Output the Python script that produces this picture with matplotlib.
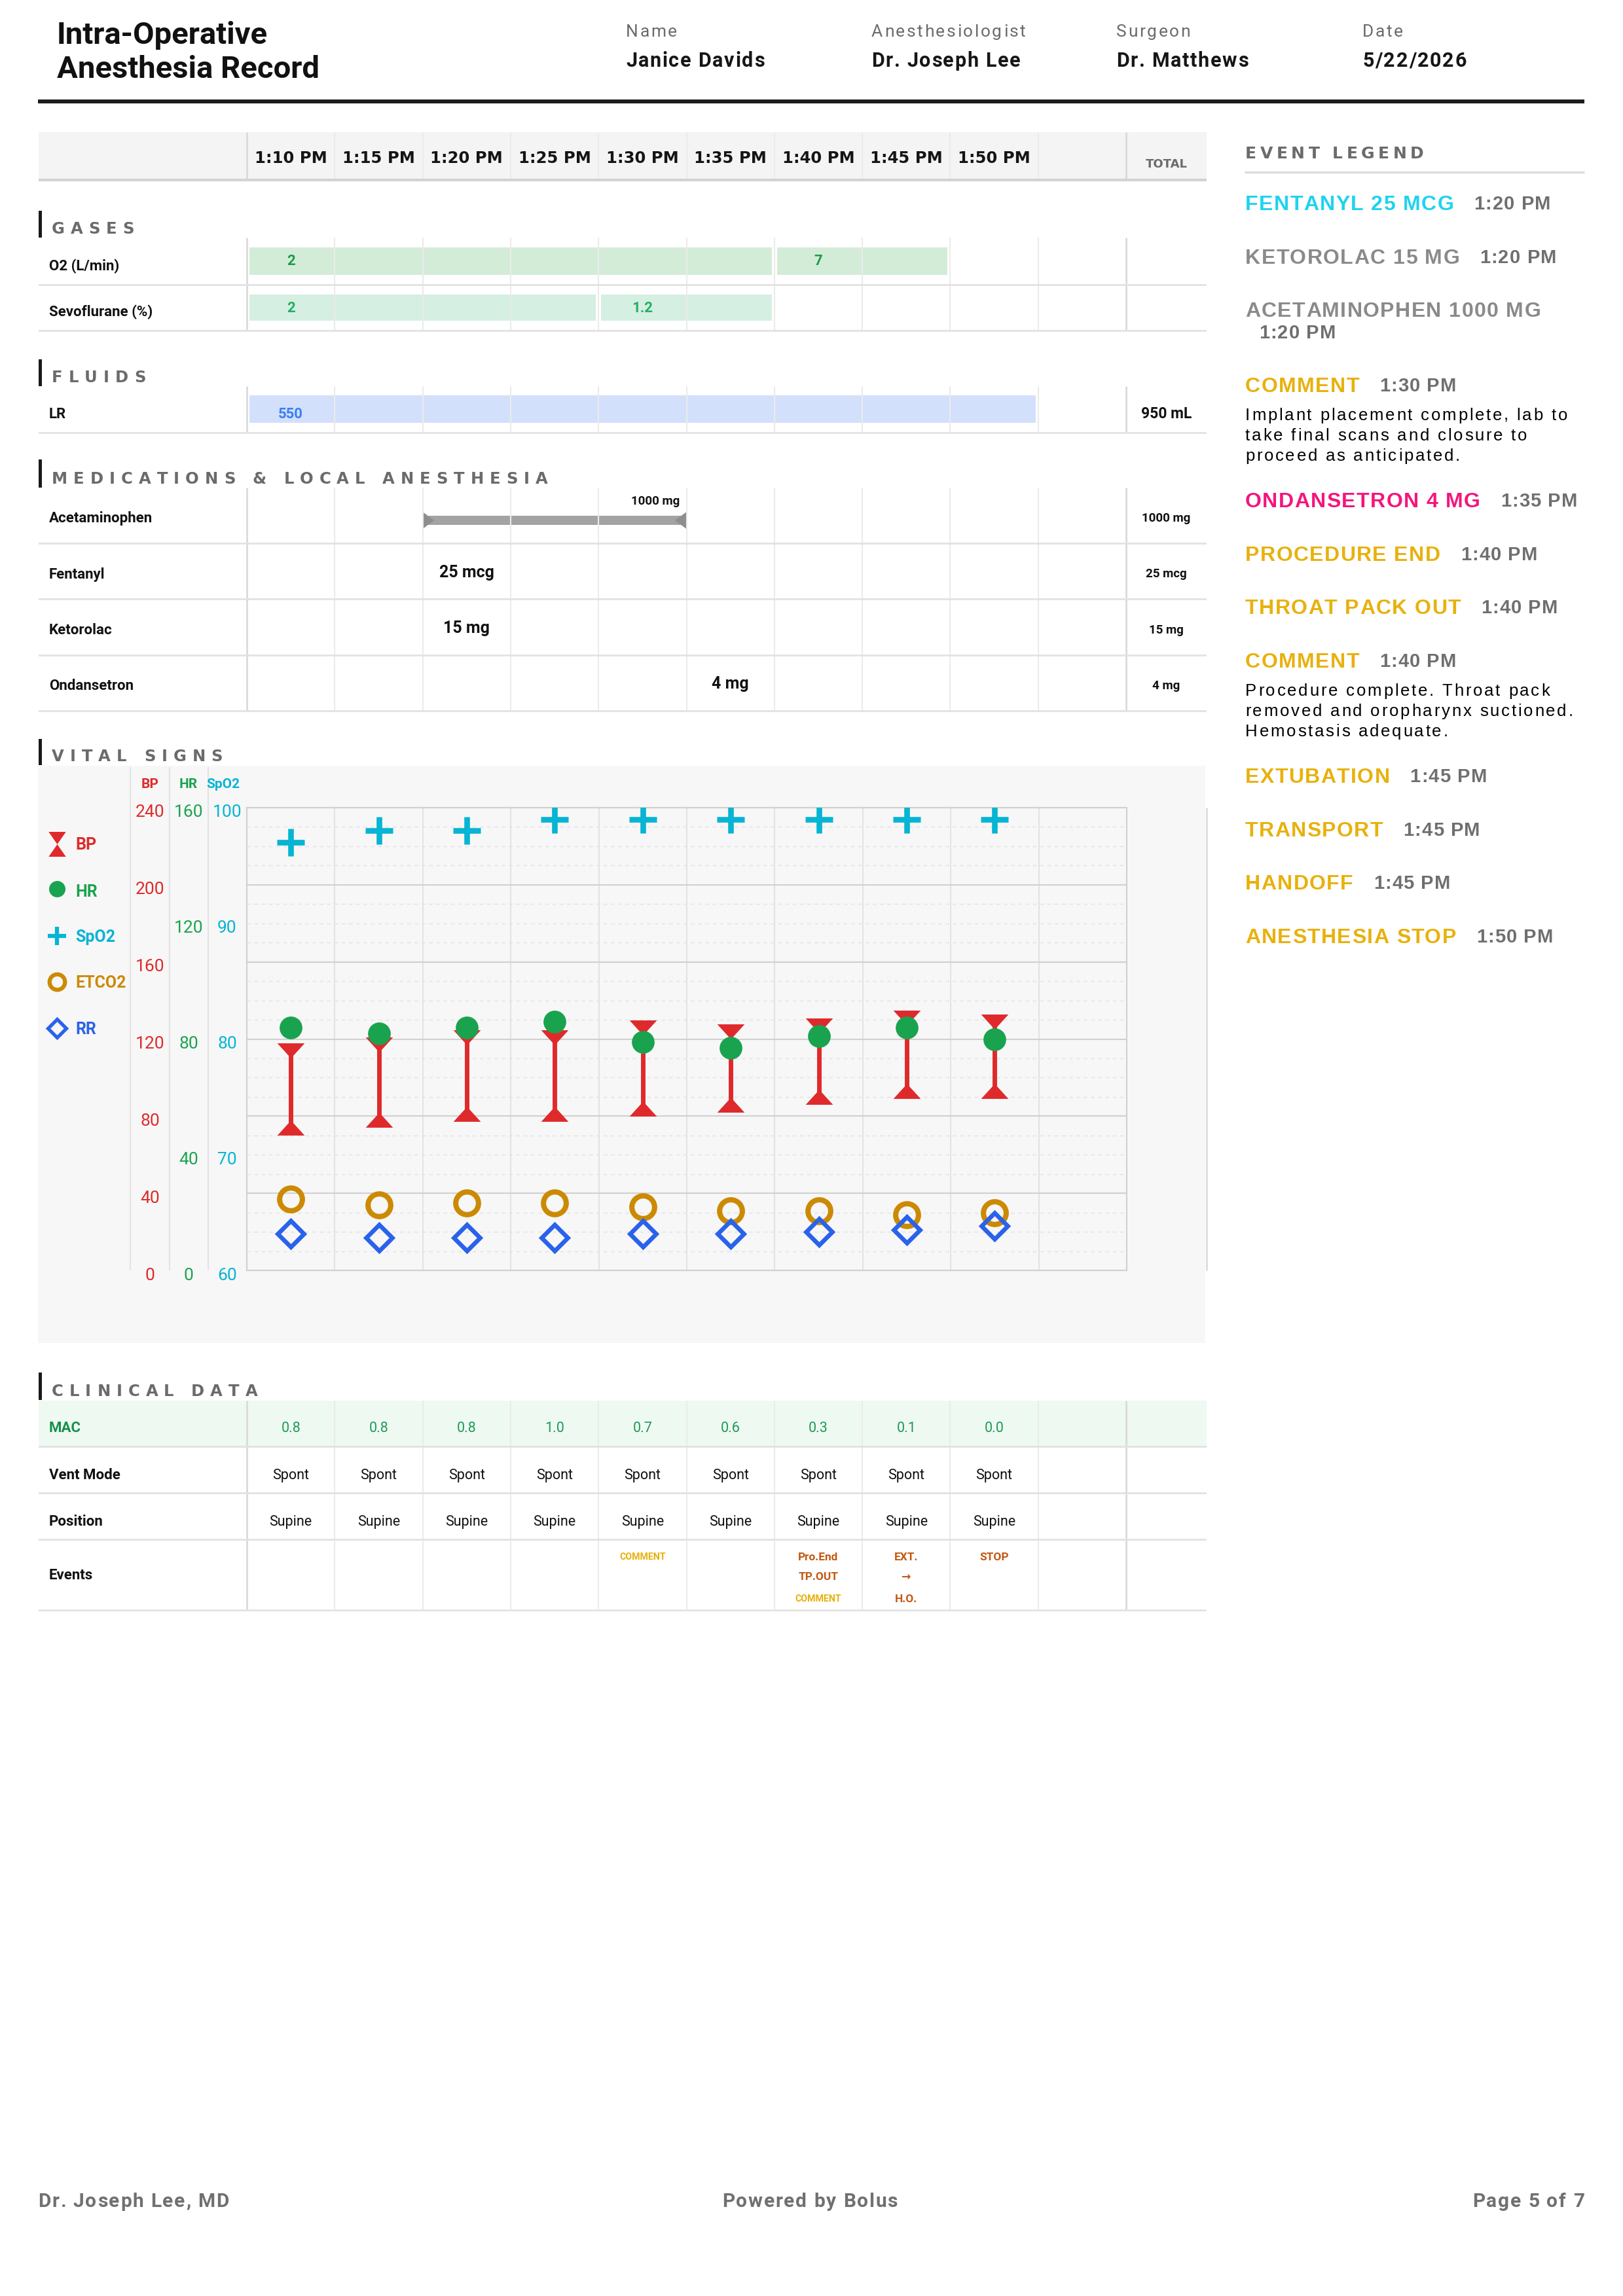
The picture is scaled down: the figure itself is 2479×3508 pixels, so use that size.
import matplotlib
matplotlib.use('Agg')
import matplotlib.pyplot as plt
from matplotlib.patches import Rectangle, Polygon
from matplotlib.transforms import offset_copy
from matplotlib.font_manager import FontProperties, findfont, get_font
try:
    from matplotlib.ft2font import LoadFlags
    NOHINT = LoadFlags.NO_HINTING
except ImportError:
    from matplotlib.ft2font import LOAD_NO_HINTING as NOHINT

plt.rcParams['font.family'] = ['Roboto', 'DejaVu Sans']
ROB = ['Roboto', 'DejaVu Sans']
LEG = ['Liberation Sans', 'DejaVu Sans']
DJV = ['DejaVu Sans']

W, H = 2479, 3508

# ---------------- data ----------------
doc_title = ['Intra-Operative', 'Anesthesia Record']
info_labels = ['Name', 'Anesthesiologist', 'Surgeon', 'Date']
info_values = ['Janice Davids', 'Dr. Joseph Lee', 'Dr. Matthews', '5/22/2026']
footer = ['Dr. Joseph Lee, MD', 'Powered by Bolus', 'Page 5 of 7']

times = ['1:10 PM', '1:15 PM', '1:20 PM', '1:25 PM', '1:30 PM',
         '1:35 PM', '1:40 PM', '1:45 PM', '1:50 PM']

# gases / fluids: bar start column, number of columns, label
o2_start = [0, 6]
o2_span = [6, 2]
o2_text = ['2', '7']
sevo_start = [0, 4]
sevo_span = [4, 2]
sevo_text = ['2', '1.2']
lr_start = [0]
lr_span = [9]
lr_text = ['550']
lr_total = '950 mL'

med_names = ['Acetaminophen', 'Fentanyl', 'Ketorolac', 'Ondansetron']
med_col = [2, 2, 2, 5]
med_span = [3, 0, 0, 0]
med_dose = ['1000 mg', '25 mcg', '15 mg', '4 mg']

bp_sys = [114, 117, 121, 121, 126, 124, 127, 131, 129]
bp_dia = [74, 78, 81, 81, 84, 86, 90, 93, 93]
hr = [84, 82, 84, 86, 79, 77, 81, 84, 80]
spo2 = [97, 98, 98, 99, 99, 99, 99, 99, 99]
etco2 = [37, 34, 35, 35, 33, 31, 31, 29, 30]
rr = [19, 17, 17, 17, 19, 19, 20, 21, 23]
bp_ticks = [0, 40, 80, 120, 160, 200, 240]
hr_ticks = [0, 40, 80, 120, 160]
spo2_ticks = [60, 70, 80, 90, 100]

mac = ['0.8', '0.8', '0.8', '1.0', '0.7', '0.6', '0.3', '0.1', '0.0']
vent_mode = ['Spont', 'Spont', 'Spont', 'Spont', 'Spont', 'Spont', 'Spont', 'Spont', 'Spont']
position = ['Supine', 'Supine', 'Supine', 'Supine', 'Supine', 'Supine', 'Supine', 'Supine', 'Supine']
event_col = [4, 6, 6, 6, 7, 7, 7, 8]
event_line = [0, 0, 1, 2, 0, 1, 2, 0]
event_tag = ['COMMENT', 'Pro.End', 'TP.OUT', 'COMMENT', 'EXT.', '→', 'H.O.', 'STOP']

legend_names = ['FENTANYL 25 MCG', 'KETOROLAC 15 MG', 'ACETAMINOPHEN 1000 MG', 'COMMENT',
                'ONDANSETRON 4 MG', 'PROCEDURE END', 'THROAT PACK OUT', 'COMMENT',
                'EXTUBATION', 'TRANSPORT', 'HANDOFF', 'ANESTHESIA STOP']
legend_times = ['1:20 PM', '1:20 PM', '1:20 PM', '1:30 PM', '1:35 PM', '1:40 PM',
                '1:40 PM', '1:40 PM', '1:45 PM', '1:45 PM', '1:45 PM', '1:50 PM']
legend_colors = ['#1fd3ef', '#8a8a8a', '#8a8a8a', '#e8b10c', '#f5157d', '#e8b10c',
                 '#e8b10c', '#e8b10c', '#e8b10c', '#e8b10c', '#e8b10c', '#e8b10c']
legend_notes = [[], [], [],
                ['Implant placement complete, lab to', 'take final scans and closure to',
                 'proceed as anticipated.'],
                [], [], [],
                ['Procedure complete. Throat pack', 'removed and oropharynx suctioned.',
                 'Hemostasis adequate.'],
                [], [], [], []]

RED, GREEN, CYAN, GOLD, BLUE = '#df2a2c', '#1aa34f', '#06b4d4', '#cc8a04', '#2a62ea'
GRAY = '#6b6b6b'

# ---------------- figure ----------------
fig = plt.figure(figsize=(W / 100, H / 100), dpi=100)
page = fig.add_axes([0, 0, 1, 1])
page.set_xlim(0, W)
page.set_ylim(H, 0)
page.axis('off')


def txt(ax, x, yc, s, size, **kw):
    # cap height centred on yc (y grows downward)
    return ax.text(x, yc + 0.49 * size, s, fontsize=size, va='baseline', **kw)


def advances(s, fp, size):
    font = get_font(findfont(fp))
    font.set_size(size, 100)
    return [font.load_char(ord(c), flags=NOHINT).linearHoriAdvance / 65536 for c in s]


def tracked_width(s, size, track, family, weight='normal'):
    fp = FontProperties(family=family, weight=weight, size=size)
    return sum(advances(s, fp, size)) + track * (len(s) - 1)


def tracked(x, yc, s, size, track, family, weight='normal', ha='left', **kw):
    # letter-spaced text on the page axes, returns right end in px
    fp = FontProperties(family=family, weight=weight, size=size)
    adv = advances(s, fp, size)
    total = sum(adv) + track * (len(s) - 1)
    x0 = x - {'left': 0, 'center': total / 2, 'right': total}[ha]
    for c, a in zip(s, adv):
        if c != ' ':
            page.text(x0, yc + 0.49 * size, c, fontproperties=fp, va='baseline', **kw)
        x0 += a + track
    return x0 - track


# header
txt(page, 87, 50, doc_title[0], 34, fontweight='bold', color='#111111')
txt(page, 87, 102, doc_title[1], 34, fontweight='bold', color='#111111')
for x, lab, val in zip([956, 1331, 1705, 2081], info_labels, info_values):
    tracked(x, 47, lab, 19, 2.6, ROB, color=GRAY)
    tracked(x, 91, val, 22, 1.7, ROB, weight='bold', color='#161616')
page.add_patch(Rectangle((58, 152), 2362, 6, color='#1c1c1c', lw=0))

# footer
tracked(58, 3361, footer[0], 21.5, 1.8, ROB, weight='bold', color='#707070')
tracked(1237, 3361, footer[1], 21.5, 1.8, ROB, weight='bold', color='#707070', ha='center')
tracked(2420, 3361, footer[2], 21.5, 1.8, ROB, weight='bold', color='#707070', ha='right')


def section(y0, y1, title):
    page.add_patch(Rectangle((59, y0), 5, y1 - y0, color='#1a1a1a', lw=0))
    tracked(79, y1 - 15, title, 17.5, 9, DJV, weight='bold', color=GRAY)


section(322, 363, 'GASES')
section(549, 590, 'FLUIDS')
section(702, 745, 'MEDICATIONS & LOCAL ANESTHESIA')
section(1129, 1169, 'VITAL SIGNS')
section(2097, 2139, 'CLINICAL DATA')

# ---------------- table sections ----------------
C0, CW, NCOL = 377, 134.3, 10
TX0, TX1 = 59, 1843
LBL_X = (75 - C0) / CW
TOT_X = ((1720 + 1843) / 2 - C0) / CW


def table_axes(y0, y1):
    ax = fig.add_axes([TX0 / W, 1 - y1 / H, (TX1 - TX0) / W, (y1 - y0) / H])
    ax.set_xlim((TX0 - C0) / CW, (TX1 - C0) / CW)
    ax.set_ylim(y1, y0)
    ax.axis('off')
    return ax


def grid_cols(ax, y0, y1):
    ax.vlines(range(1, NCOL), y0, y1, color='#ebebeb', lw=1.5)
    ax.vlines([0, NCOL], y0, y1, color='#dadada', lw=2)


# time header
hd = table_axes(202, 279)
hd.axhspan(202, 273, color='#f4f4f4', lw=0)
hd.axhline(275, color='#d3d3d3', lw=3)
grid_cols(hd, 202, 273)
for i, t in enumerate(times):
    txt(hd, i + 0.5, 240, t, 17.5, fontweight='bold', ha='center', color='#151515', family=DJV)
txt(hd, TOT_X, 250, 'TOTAL', 13, fontweight='bold', ha='center', color=GRAY, family=DJV)

# gases
gs = table_axes(363, 507)
grid_cols(gs, 363, 505)
for yl in [435, 505]:
    gs.axhline(yl, color='#e2e2e2', lw=2)
gs.broken_barh([(s + 0.03, n - 0.06) for s, n in zip(o2_start, o2_span)], (378, 42),
               facecolors='#d3ecd8')
gs.broken_barh([(s + 0.03, n - 0.06) for s, n in zip(sevo_start, sevo_span)], (450, 40),
               facecolors='#d5efe2')
for s, v in zip(o2_start, o2_text):
    txt(gs, s + 0.5, 397, v, 16, color='#1c9b4b', fontweight='bold', ha='center')
for s, v in zip(sevo_start, sevo_text):
    txt(gs, s + 0.5, 469, v, 16, color='#22b063', fontweight='bold', ha='center')
txt(gs, LBL_X, 405, 'O2 (L/min)', 16, fontweight='bold', color='#111111')
txt(gs, LBL_X, 475, 'Sevoflurane (%)', 16, fontweight='bold', color='#111111')

# fluids
fl = table_axes(590, 663)
grid_cols(fl, 590, 661)
fl.axhline(661, color='#e2e2e2', lw=2)
fl.broken_barh([(s + 0.03, n - 0.06) for s, n in zip(lr_start, lr_span)], (604, 42),
               facecolors='#d3e0fb')
for s, v in zip(lr_start, lr_text):
    txt(fl, s + 0.5, 631, v, 16, color='#3b7ff2', fontweight='bold', ha='center')
txt(fl, LBL_X, 631, 'LR', 16, fontweight='bold', color='#111111')
txt(fl, TOT_X, 631, lr_total, 16.5, fontweight='bold', color='#111111', ha='center')

# medications
md = table_axes(745, 1088)
grid_cols(md, 745, 1086)
row_h = (1086 - 745) / len(med_names)
for i, name in enumerate(med_names):
    top = 745 + i * row_h
    yc = top + row_h / 2
    md.axhline(top + row_h, color='#e2e2e2', lw=2)
    txt(md, LBL_X, yc + 3, name, 16, fontweight='bold', color='#111111')
    txt(md, TOT_X, yc + 3, med_dose[i], 13.5, fontweight='bold', color='#111111', ha='center')
    if med_span[i] > 0:
        x0, x1 = med_col[i], med_col[i] + med_span[i]
        by = yc + 7.5
        md.broken_barh([(x0, med_span[i])], (by - 7, 14), facecolors='#a3a3a3')
        md.add_patch(Polygon([(x0, by - 13), (x0, by + 13), (x0 + 0.13, by)], color='#8e8e8e', lw=0))
        md.add_patch(Polygon([(x1, by - 13), (x1, by + 13), (x1 - 0.13, by)], color='#8e8e8e', lw=0))
        txt(md, x1 - 0.08, yc - 23, med_dose[i], 13.5, fontweight='bold', color='#111111', ha='right')
    else:
        txt(md, med_col[i] + 0.5, yc, med_dose[i], 18, fontweight='bold', color='#111111', ha='center')

# clinical data
cd = table_axes(2140, 2462)
cd.axhspan(2140, 2210, color='#eef9f2', lw=0)
grid_cols(cd, 2140, 2460)
for yl in [2210, 2281, 2352, 2460]:
    cd.axhline(yl, color='#e2e2e2', lw=2)
txt(cd, LBL_X, 2180, 'MAC', 16, fontweight='bold', color='#17904c')
txt(cd, LBL_X, 2252, 'Vent Mode', 16, fontweight='bold', color='#111111')
txt(cd, LBL_X, 2323, 'Position', 16, fontweight='bold', color='#111111')
txt(cd, LBL_X, 2405, 'Events', 16, fontweight='bold', color='#111111')
for i in range(len(times)):
    txt(cd, i + 0.5, 2180, mac[i], 15.5, color='#1f9a55', ha='center')
    txt(cd, i + 0.5, 2252, vent_mode[i], 15.5, color='#111111', ha='center')
    txt(cd, i + 0.5, 2323, position[i], 15.5, color='#111111', ha='center')
ev_y = [2378, 2408, 2442]
for c, ln, tag in zip(event_col, event_line, event_tag):
    if tag == 'COMMENT':
        txt(cd, c + 0.5, ev_y[ln], tag, 10.2, fontweight='bold', color='#e8b10c', ha='center')
    else:
        txt(cd, c + 0.5, ev_y[ln], tag, 12.4, fontweight='bold', color='#c4560e', ha='center')

# ---------------- vital signs ----------------
page.add_patch(Rectangle((58, 1170), 1783, 882, color='#f7f7f7', lw=0))
page.vlines([199, 259, 318], 1172, 1941, color='#e3e3e3', lw=1.5)
page.vlines([1843], 1234, 1941, color='#dddddd', lw=2)
txt(page, 229, 1197, 'BP', 15, fontweight='bold', color=RED, ha='center')
txt(page, 288, 1197, 'HR', 15, fontweight='bold', color=GREEN, ha='center')
txt(page, 341, 1197, 'SpO2', 15, fontweight='bold', color=CYAN, ha='center')

tri_down = [(-1, 0.55), (1, 0.55), (0, -0.55)]
tri_up = [(-1, -0.55), (1, -0.55), (0, 0.55)]
leg_down = [(-1, 0.72), (1, 0.72), (0, -0.72)]
leg_up = [(-1, -0.72), (1, -0.72), (0, 0.72)]

# left symbol key
page.plot([87], [1280], marker=leg_down, ms=19, color=RED, mew=0, ls='none')
page.plot([87], [1299], marker=leg_up, ms=19, color=RED, mew=0, ls='none')
page.plot([87], [1358], marker='o', ms=18, color=GREEN, mew=0, ls='none')
page.plot([87], [1430], marker='+', ms=19.5, color=CYAN, mew=4.5, ls='none')
page.plot([87], [1500], marker='o', ms=17, mfc='none', mec=GOLD, mew=4.5, ls='none')
page.plot([87], [1571], marker='D', ms=14.5, mfc='none', mec=BLUE, mew=3.8, ls='none')
for yc, lab, col in zip([1289, 1361, 1430, 1500, 1571], ['BP', 'HR', 'SpO2', 'ETCO2', 'RR'],
                        [RED, GREEN, CYAN, GOLD, BLUE]):
    txt(page, 115, yc, lab, 18, fontweight='bold', color=col)

vx = fig.add_axes([377 / W, 1 - 1941 / H, (1721 - 377) / W, (1941 - 1234) / H])
vx.set_facecolor('none')
vx.set_xlim(0, NCOL)
vx.set_ylim(0, 240)
vx.set_yticks(bp_ticks)
vx.set_yticks(range(0, 241, 10), minor=True)
vx.set_xticks(range(0, NCOL + 1))
vx.set_axisbelow(True)
vx.grid(which='minor', axis='y', color='#e2e2e2', lw=1, ls=(0, (4, 4)))
vx.grid(which='major', axis='y', color='#d0d0d0', lw=1.5)
vx.grid(which='major', axis='x', color='#dedede', lw=1.2)
vx.tick_params(which='both', length=0, labelleft=False, labelbottom=False)
for sp in vx.spines.values():
    sp.set_color('#d0d0d0')
    sp.set_linewidth(1.5)

hx = vx.twinx()
hx.set_ylim(0, 160)
hx.axis('off')
sx = vx.twinx()
sx.set_ylim(60, 100)
sx.axis('off')

xs = [i + 0.5 for i in range(len(times))]
vx.vlines(xs, bp_dia, bp_sys, color=RED, lw=5, zorder=3)
vx.plot(xs, bp_sys, ls='none', marker=tri_down, ms=30, color=RED, mew=0, zorder=4)
vx.plot(xs, bp_dia, ls='none', marker=tri_up, ms=30, color=RED, mew=0, zorder=4)
vx.plot(xs, etco2, ls='none', marker='o', ms=25, mfc='none', mec=GOLD, mew=5.8, zorder=5)
vx.plot(xs, rr, ls='none', marker='D', ms=20.5, mfc='none', mec=BLUE, mew=4.8, zorder=6)
hx.plot(xs, hr, ls='none', marker='o', ms=25, color=GREEN, mew=0)
sx.plot(xs, spo2, ls='none', marker='+', ms=30, color=CYAN, mew=6.2)

for ax, ticks, xf, col in [(vx, bp_ticks, -0.1101, RED), (hx, hr_ticks, -0.0662, GREEN),
                           (sx, spo2_ticks, -0.0223, CYAN)]:
    tr = offset_copy(ax.get_yaxis_transform(), fig=fig, y=-14.5, units='dots')
    for v in ticks:
        ax.text(xf, v, str(v), transform=tr, ha='center', va='baseline', fontsize=19,
                color=col, clip_on=False)

# ---------------- event legend ----------------
LX = 1902
tracked(LX, 233, 'EVENT LEGEND', 18, 5.5, DJV, weight='bold', color=GRAY)
page.hlines(263, 1901, 2420, color='#dddddd', lw=2.5)

y = 310
for name, t, col, note in zip(legend_names, legend_times, legend_colors, legend_notes):
    x_end = tracked(LX, y, name, 23, 1.4, LEG, weight='bold', color=col)
    extra = 0
    if x_end + 31 + tracked_width(t, 21, 1.2, LEG, 'bold') > 2420:
        tracked(1923, y + 34, t, 21, 1.2, LEG, weight='bold', color='#6f6f6f')
        extra = 33
    else:
        tracked(x_end + 31, y, t, 21, 1.2, LEG, weight='bold', color='#6f6f6f')
    for k, line in enumerate(note):
        tracked(LX, y + 45 + 31 * k, line, 18.5, 2.8, LEG, color='#000000')
    if note:
        extra = 95
    y += 81.5 + extra

fig.savefig('out.png', dpi=100, facecolor='white')
